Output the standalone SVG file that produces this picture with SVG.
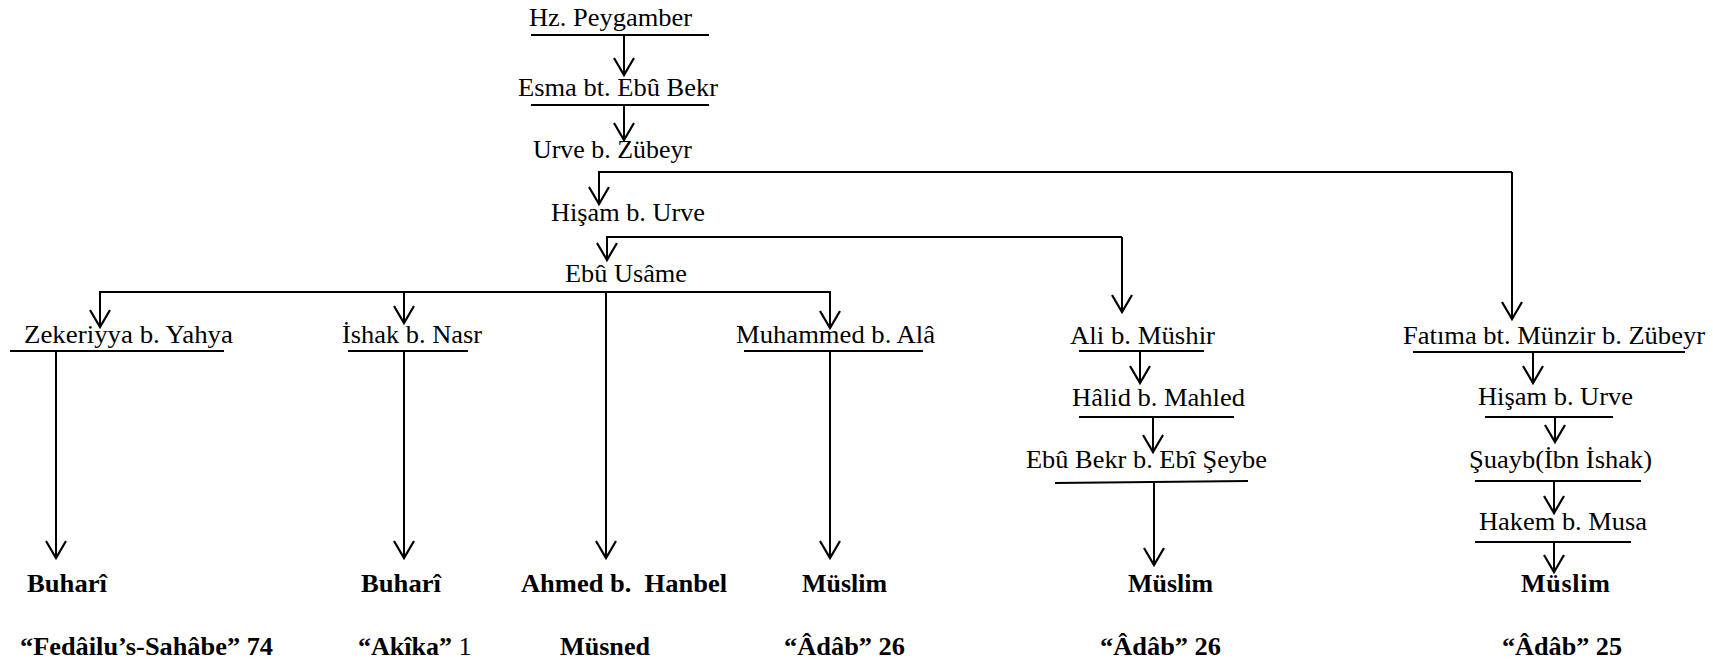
<svg xmlns="http://www.w3.org/2000/svg" width="1713" height="666" viewBox="0 0 1713 666">
<style>
  text { font-family: "Liberation Serif", "Tinos", "Times New Roman", "DejaVu Serif", serif; font-size: 26px; fill: #000; }
  .b { font-weight: bold; }
  .n { font-weight: normal; }
  .ul { stroke: #000; stroke-width: 2; fill: none; }
  .c { stroke: #000; stroke-width: 2; fill: none; }
  .a { marker-end: url(#arr); }
</style>
<defs>
  <marker id="arr" markerUnits="userSpaceOnUse" markerWidth="40" markerHeight="40" refX="0" refY="0" orient="auto" overflow="visible">
    <path d="M-17,-10 L0,0 L-17,10" fill="none" stroke="#000" stroke-width="2.2"/>
  </marker>
</defs>
<rect width="1713" height="666" fill="#fff"/>

<g id="connectors">
  <path class="c a" d="M624,35 V75"/>
  <path class="c a" d="M624,105 V140"/>
  <path class="c a" d="M1512,172 H599 V204"/>
  <path class="c a" d="M1512,172 V319"/>
  <path class="c a" d="M1122,237 H607 V260"/>
  <path class="c a" d="M1122,237 V312"/>
  <path class="c a" d="M606,292 H100 V327"/>
  <path class="c a" d="M606,292 H830 V328"/>
  <path class="c a" d="M404,292 V323"/>
  <path class="c a" d="M606,292 V558"/>
  <path class="c a" d="M56,351 V558"/>
  <path class="c a" d="M404,351 V558"/>
  <path class="c a" d="M830,351 V558"/>
  <path class="c a" d="M1140,351 V383"/>
  <path class="c a" d="M1153,417 V452"/>
  <path class="c a" d="M1154,482 V565"/>
  <path class="c a" d="M1533,352 V383"/>
  <path class="c a" d="M1555,417 V442"/>
  <path class="c a" d="M1554,481 V513"/>
  <path class="c a" d="M1554,542 V572"/>
</g>

<g id="n-peygamber">
  <text x="529" y="26" textLength="163" lengthAdjust="spacingAndGlyphs">Hz. Peygamber</text>
  <line class="ul" x1="531" y1="35" x2="709" y2="35"/>
</g>
<g id="n-esma">
  <text x="518" y="96" textLength="200" lengthAdjust="spacingAndGlyphs">Esma bt. Ebû Bekr</text>
  <line class="ul" x1="531" y1="105" x2="709" y2="105"/>
</g>
<g id="n-urve">
  <text x="533" y="158" textLength="159" lengthAdjust="spacingAndGlyphs">Urve b. Zübeyr</text>
</g>
<g id="n-hisam1">
  <text x="551" y="221" textLength="154" lengthAdjust="spacingAndGlyphs">Hişam b. Urve</text>
</g>
<g id="n-ebuusame">
  <text x="565" y="282" textLength="122" lengthAdjust="spacingAndGlyphs">Ebû Usâme</text>
</g>
<g id="n-zekeriyya">
  <text x="24" y="343" textLength="209" lengthAdjust="spacingAndGlyphs">Zekeriyya b. Yahya</text>
  <line class="ul" x1="10" y1="351" x2="224" y2="351"/>
</g>
<g id="n-ishak">
  <text x="342" y="343" textLength="140" lengthAdjust="spacingAndGlyphs">İshak b. Nasr</text>
  <line class="ul" x1="348" y1="351" x2="468" y2="351"/>
</g>
<g id="n-muhammed">
  <text x="736" y="343" textLength="199" lengthAdjust="spacingAndGlyphs">Muhammed b. Alâ</text>
  <line class="ul" x1="744" y1="351" x2="923" y2="351"/>
</g>
<g id="n-ali">
  <text x="1070" y="344" textLength="145" lengthAdjust="spacingAndGlyphs">Ali b. Müshir</text>
  <line class="ul" x1="1079" y1="351" x2="1204" y2="351"/>
</g>
<g id="n-halid">
  <text x="1072" y="406" textLength="173" lengthAdjust="spacingAndGlyphs">Hâlid b. Mahled</text>
  <line class="ul" x1="1079" y1="417" x2="1234" y2="417"/>
</g>
<g id="n-ebubekr">
  <text x="1026" y="468" textLength="241" lengthAdjust="spacingAndGlyphs">Ebû Bekr b. Ebî Şeybe</text>
  <line class="ul" x1="1055" y1="483" x2="1248" y2="481"/>
</g>
<g id="n-fatima">
  <text x="1403" y="344" textLength="302" lengthAdjust="spacingAndGlyphs">Fatıma bt. Münzir b. Zübeyr</text>
  <line class="ul" x1="1413" y1="352" x2="1685" y2="352"/>
</g>
<g id="n-hisam2">
  <text x="1478" y="405" textLength="155" lengthAdjust="spacingAndGlyphs">Hişam b. Urve</text>
  <line class="ul" x1="1485" y1="417" x2="1613" y2="417"/>
</g>
<g id="n-suayb">
  <text x="1469" y="468" textLength="183" lengthAdjust="spacingAndGlyphs">Şuayb(İbn İshak)</text>
  <line class="ul" x1="1475" y1="481" x2="1641" y2="481"/>
</g>
<g id="n-hakem">
  <text x="1479" y="530" textLength="168" lengthAdjust="spacingAndGlyphs">Hakem b. Musa</text>
  <line class="ul" x1="1475" y1="542" x2="1631" y2="542"/>
</g>

<g id="n-buhari1">
  <text class="b" x="27" y="592" textLength="80" lengthAdjust="spacingAndGlyphs">Buharî</text>
  <text class="b" x="20" y="655" textLength="253" lengthAdjust="spacingAndGlyphs">“Fedâilu’s-Sahâbe” 74</text>
</g>
<g id="n-buhari2">
  <text class="b" x="361" y="592" textLength="80" lengthAdjust="spacingAndGlyphs">Buharî</text>
  <text class="b" x="358" y="655">“Akîka” <tspan class="n">1</tspan></text>
</g>
<g id="n-ahmed">
  <text class="b" x="521" y="592" textLength="206" lengthAdjust="spacingAndGlyphs">Ahmed b.&#160; Hanbel</text>
  <text class="b" x="560" y="655" textLength="90" lengthAdjust="spacingAndGlyphs">Müsned</text>
</g>
<g id="n-muslim1">
  <text class="b" x="802" y="592" textLength="85" lengthAdjust="spacingAndGlyphs">Müslim</text>
  <text class="b" x="784" y="655" textLength="121" lengthAdjust="spacingAndGlyphs">“Âdâb” 26</text>
</g>
<g id="n-muslim2">
  <text class="b" x="1128" y="592" textLength="85" lengthAdjust="spacingAndGlyphs">Müslim</text>
  <text class="b" x="1100" y="655" textLength="121" lengthAdjust="spacingAndGlyphs">“Âdâb” 26</text>
</g>
<g id="n-muslim3">
  <text class="b" x="1521" y="592" textLength="89" lengthAdjust="spacing">Müslim</text>
  <text class="b" x="1502" y="655" textLength="120" lengthAdjust="spacingAndGlyphs">“Âdâb” 25</text>
</g>
</svg>
